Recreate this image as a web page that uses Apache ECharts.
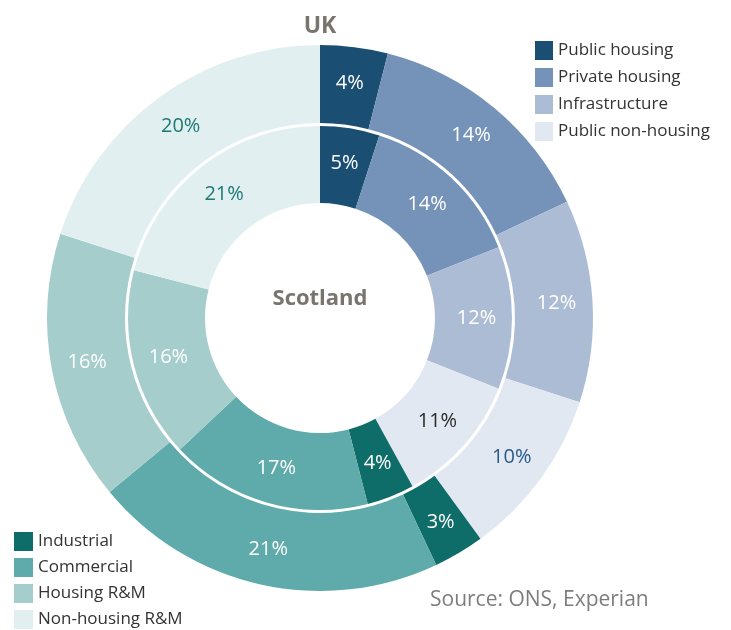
<!DOCTYPE html>
<html>
<head>
<meta charset="utf-8">
<script src="https://cdn.jsdelivr.net/npm/echarts@6/dist/echarts.min.js"></script>
<style>
  html, body { margin: 0; padding: 0; background: #ffffff; }
  #chart { width: 731px; height: 630px; }
</style>
</head>
<body>
<div id="chart"></div>
<script>
// Construction output shares by sector (%)
const sectors = ['Public housing', 'Private housing', 'Infrastructure', 'Public non-housing',
                 'Industrial', 'Commercial', 'Housing R&M', 'Non-housing R&M'];
const ukShares = [4, 14, 12, 10, 3, 21, 16, 20];
const scotlandShares = [5, 14, 12, 11, 4, 17, 16, 21];

const sectorColors = ['#1b4e73', '#7593b8', '#adbcd5', '#e2e8f1',
                      '#0e6d69', '#5faaaa', '#a5cdcb', '#e2eff0'];
const ukLabelColors = ['#fff', '#fff', '#fff', '#2a5a8a', '#fff', '#fff', '#fff', '#1b7a75'];
const scotLabelColors = ['#fff', '#fff', '#fff', '#2a2a2a', '#fff', '#fff', '#fff', '#1b7a75'];

const FONT = '"Open Sans", "Noto Sans", sans-serif';

function ringData(values, labelColors) {
  return sectors.map((name, i) => ({
    name: name,
    value: values[i],
    itemStyle: { color: sectorColors[i] },
    label: { color: labelColors[i] }
  }));
}

const ringLabel = {
  show: true,
  position: 'inside',
  formatter: '{c}%',
  fontFamily: FONT,
  fontSize: 20,
  fontWeight: 'normal'
};

const legendText = { color: '#333333', fontFamily: FONT, fontSize: 17 };

const chart = echarts.init(document.getElementById('chart'), null, { renderer: 'canvas' });
chart.setOption({
  backgroundColor: '#ffffff',
  animation: false,
  legend: [
    {
      orient: 'vertical', left: 530, top: 36, height: 120,
      icon: 'rect', itemWidth: 18, itemHeight: 19, itemGap: 8,
      textStyle: legendText,
      data: sectors.slice(0, 4),
      selectedMode: false
    },
    {
      orient: 'vertical', left: 9, top: 527, height: 110,
      icon: 'rect', itemWidth: 19, itemHeight: 19, itemGap: 7,
      textStyle: legendText,
      data: sectors.slice(4),
      selectedMode: false
    }
  ],
  graphic: [
    { type: 'text', x: 320, y: 26, style: { text: 'UK', fill: '#7a746f', font: 'bold 23px ' + FONT, align: 'center', verticalAlign: 'middle' } },
    { type: 'text', x: 320, y: 299, style: { text: 'Scotland', fill: '#7a746f', font: 'bold 22px ' + FONT, align: 'center', verticalAlign: 'middle' } },
    { type: 'text', x: 430, y: 600, style: { text: 'Source: ONS, Experian', fill: '#7d7d7d', font: '21px ' + FONT, align: 'left', verticalAlign: 'middle' } }
  ],
  series: [
    {
      name: 'UK',
      type: 'pie',
      center: [320, 318],
      radius: [195, 273],
      startAngle: 90,
      clockwise: true,
      silent: true,
      label: ringLabel,
      labelLine: { show: false },
      itemStyle: { borderWidth: 0 },
      data: ringData(ukShares, ukLabelColors)
    },
    {
      name: 'Scotland',
      type: 'pie',
      center: [320, 318],
      radius: [115, 192],
      startAngle: 90,
      clockwise: true,
      silent: true,
      label: ringLabel,
      labelLine: { show: false },
      itemStyle: { borderWidth: 0 },
      data: ringData(scotlandShares, scotLabelColors)
    }
  ]
});
</script>
</body>
</html>
